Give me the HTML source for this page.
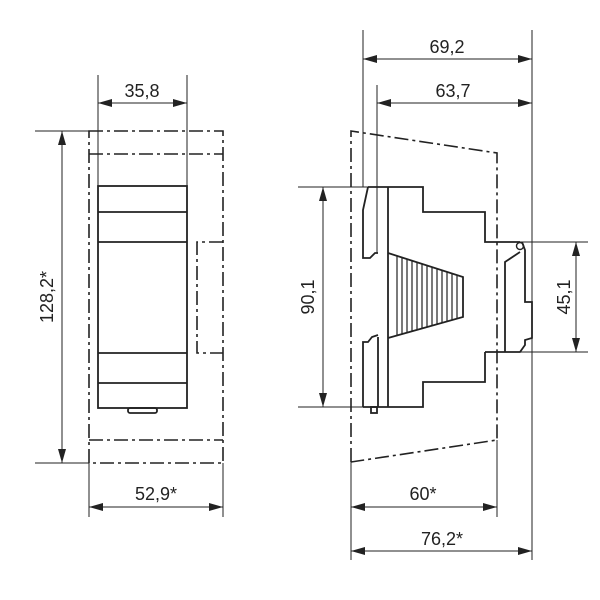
<!DOCTYPE html>
<html><head><style>body{margin:0;background:#fff}svg{display:block}text{font-family:"Liberation Sans",sans-serif;font-size:18px;fill:#222}</style></head><body>
<svg width="600" height="600" viewBox="0 0 600 600" xmlns="http://www.w3.org/2000/svg">
<defs><marker id="a" viewBox="0 0 14 8" refX="14" refY="4" markerWidth="14" markerHeight="8" orient="auto-start-reverse" markerUnits="userSpaceOnUse"><path d="M0,0L14,4L0,8z" fill="#222"/></marker></defs>
<g stroke="#222" fill="none">
<!-- LEFT VIEW -->
<g stroke-width="1.6" stroke-dasharray="14,4,3,4">
<rect x="89" y="131" width="134" height="332"/>
<line x1="89" y1="154" x2="223" y2="154"/>
<line x1="89" y1="440" x2="223" y2="440"/>
<polyline points="223,242 197,242 197,353 223,353"/>
</g>
<g stroke-width="1.8">
<rect x="98" y="186" width="89" height="222"/>
<line x1="98" y1="212" x2="187" y2="212"/>
<line x1="98" y1="242" x2="187" y2="242"/>
<line x1="98" y1="353" x2="187" y2="353"/>
<line x1="98" y1="383" x2="187" y2="383"/>
<rect x="128" y="408" width="29" height="5" rx="2"/>
</g>
<g stroke-width="1">
<line x1="98" y1="75" x2="98" y2="186"/><line x1="187" y1="75" x2="187" y2="186"/>
<line x1="98" y1="103" x2="187" y2="103" marker-start="url(#a)" marker-end="url(#a)"/>
<line x1="35" y1="131" x2="89" y2="131"/><line x1="35" y1="463" x2="89" y2="463"/>
<line x1="62" y1="131" x2="62" y2="463" marker-start="url(#a)" marker-end="url(#a)"/>
<line x1="89" y1="463" x2="89" y2="517"/><line x1="223" y1="463" x2="223" y2="517"/>
<line x1="89" y1="507" x2="223" y2="507" marker-start="url(#a)" marker-end="url(#a)"/>
</g>
<!-- RIGHT VIEW -->
<g stroke-width="1.6" stroke-dasharray="14,4,3,4">
<polyline points="351,462 351,131 497,153 497,440 351,462"/>
</g>
<g stroke-width="1.8">
<polyline points="388,187 423,187 423,212 485,212 485,242 520,242"/>
<polyline points="485,352 485,382 423,382 423,407 363,407"/>
<line x1="388" y1="187" x2="388" y2="407"/>
<polyline points="368,187 388,187"/>
<polyline points="368,187 363,210 363,258 370,258 375,253 378,253"/>
<polyline points="378,335 372,337 368,342 363,342 363,407"/>
<line x1="378" y1="337" x2="378" y2="407"/>
<rect x="371" y="407" width="6" height="6"/>
<polyline points="388,253 463,277 463,317 388,338"/>
<polyline points="485,352 520,352 525,345 525,340 532,338 532,302 525,302 525,250 522,242"/>
<polyline points="505,352 505,262 520,252"/>
<circle cx="520" cy="246" r="3.5" stroke-width="1.4"/>
</g>
<g stroke-width="1.2">
<line x1="397" y1="256" x2="397" y2="336"/><line x1="402" y1="257" x2="402" y2="334"/>
<line x1="407" y1="259" x2="407" y2="333"/><line x1="412" y1="261" x2="412" y2="331"/>
<line x1="417" y1="262" x2="417" y2="330"/><line x1="422" y1="264" x2="422" y2="328"/>
<line x1="427" y1="265" x2="427" y2="327"/><line x1="432" y1="267" x2="432" y2="326"/>
<line x1="437" y1="269" x2="437" y2="324"/><line x1="442" y1="270" x2="442" y2="323"/>
<line x1="447" y1="272" x2="447" y2="321"/><line x1="452" y1="273" x2="452" y2="320"/>
<line x1="457" y1="275" x2="457" y2="318"/>
</g>
<g stroke-width="1">
<line x1="363" y1="30" x2="363" y2="187"/><line x1="532" y1="30" x2="532" y2="560"/>
<line x1="363" y1="59" x2="532" y2="59" marker-start="url(#a)" marker-end="url(#a)"/>
<line x1="377" y1="85" x2="377" y2="253"/>
<line x1="377" y1="103" x2="532" y2="103" marker-start="url(#a)" marker-end="url(#a)"/>
<line x1="298" y1="187" x2="368" y2="187"/><line x1="298" y1="407" x2="363" y2="407"/>
<line x1="323" y1="187" x2="323" y2="407" marker-start="url(#a)" marker-end="url(#a)"/>
<line x1="520" y1="242" x2="588" y2="242"/><line x1="520" y1="352" x2="588" y2="352"/>
<line x1="576" y1="242" x2="576" y2="352" marker-start="url(#a)" marker-end="url(#a)"/>
<line x1="351" y1="462" x2="351" y2="560"/><line x1="497" y1="440" x2="497" y2="517"/>
<line x1="351" y1="507" x2="497" y2="507" marker-start="url(#a)" marker-end="url(#a)"/>
<line x1="351" y1="551" x2="532" y2="551" marker-start="url(#a)" marker-end="url(#a)"/>
</g>
</g>
<g stroke="none">
<text x="142" y="97" text-anchor="middle">35,8</text>
<text transform="translate(53,297) rotate(-90)" text-anchor="middle">128,2*</text>
<text x="156" y="500" text-anchor="middle">52,9*</text>
<text x="447" y="53" text-anchor="middle">69,2</text>
<text x="453" y="97" text-anchor="middle">63,7</text>
<text transform="translate(314,297) rotate(-90)" text-anchor="middle">90,1</text>
<text transform="translate(570,297) rotate(-90)" text-anchor="middle">45,1</text>
<text x="423" y="500" text-anchor="middle">60*</text>
<text x="442" y="545" text-anchor="middle">76,2*</text>
</g>
</svg>
</body></html>
